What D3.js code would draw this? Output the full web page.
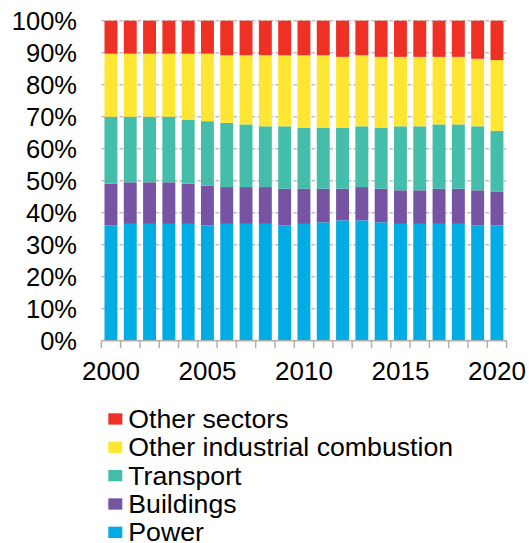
<!DOCTYPE html>
<html>
<head>
<meta charset="utf-8">
<script src="https://cdn.jsdelivr.net/npm/d3@7"></script>
<style>
  body { margin: 0; background: #fff; }
  svg text { font-family: "Liberation Sans", Arial, sans-serif; fill: #000; }
</style>
</head>
<body>
<svg id="chart" width="529" height="543"></svg>
<script>
var years = d3.range(2000, 2021);
var sectors = ["Power", "Buildings", "Transport", "Other industrial combustion", "Other sectors"];
var colors = ["#00ace4", "#7753a3", "#45bdab", "#ffe633", "#ee3124"];

// shares in % of total
var power     = [36.0,36.5,36.5,36.5,36.5,36.0,36.5,36.5,36.5,36.0,36.5,37.0,37.6,37.6,37.0,36.5,36.5,36.5,36.5,36.0,36.0];
var buildings = [13.1,13.0,13.0,13.0,12.6,12.5,11.5,11.5,11.5,11.5,11.0,10.5, 9.9,10.4,10.5,10.5,10.5,11.0,11.0,11.0,10.5];
var transport = [20.9,20.5,20.5,20.5,20.0,20.1,20.1,19.6,19.0,19.5,19.1,19.1,19.1,19.0,19.1,20.0,20.0,20.1,20.1,20.0,19.1];
var industry  = [19.7,19.7,19.7,19.7,20.6,21.1,21.1,21.6,22.2,22.2,22.6,22.6,22.1,22.2,22.1,21.7,21.7,21.1,21.1,21.1,22.1];
var other     = [10.3,10.3,10.3,10.3,10.3,10.3,10.8,10.8,10.8,10.8,10.8,10.8,11.3,10.8,11.3,11.3,11.3,11.3,11.3,11.9,12.3];

var yTicks = [0,10,20,30,40,50,60,70,80,90,100];
var xLabels = [2000, 2005, 2010, 2015, 2020];
var legendOrder = ["Other sectors", "Other industrial combustion", "Transport", "Buildings", "Power"];

var series = [power, buildings, transport, industry, other];
var rows = years.map(function(yr, i){
  var r = {year: yr};
  sectors.forEach(function(s, k){ r[s] = series[k][i]; });
  return r;
});

var svg = d3.select("#chart");
var x0 = 101.3, x1 = 506.6, yTop = 20.7, yBot = 340.7;

var x = d3.scaleBand().domain(years).range([x0, x1]).paddingInner(0.33).paddingOuter(0.165);
var y = d3.scaleLinear().domain([0, 100]).range([yBot, yTop]);
var color = d3.scaleOrdinal().domain(sectors).range(colors);

// gridlines
svg.append("g").selectAll("line").data(yTicks.slice(1)).enter().append("line")
  .attr("x1", x0).attr("x2", x1)
  .attr("y1", function(d){ return y(d); }).attr("y2", function(d){ return y(d); })
  .attr("stroke", "#c0c0c0").attr("stroke-width", 1.4).attr("stroke-dasharray", "4,2");

// stacked bars
var stacked = d3.stack().keys(sectors)(rows);
svg.append("g").selectAll("g").data(stacked).enter().append("g")
  .attr("fill", function(d){ return color(d.key); })
  .selectAll("rect").data(function(d){ return d; }).enter().append("rect")
    .attr("x", function(d){ return x(d.data.year); })
    .attr("width", x.bandwidth())
    .attr("y", function(d){ return y(d[1]); })
    .attr("height", function(d){ return y(d[0]) - y(d[1]); });

// x axis line and ticks at band edges
var step = x.step();
var ax = svg.append("g").attr("stroke", "#b0b0b0").attr("stroke-width", 1.5);
ax.append("line").attr("x1", x0).attr("x2", x1).attr("y1", yBot).attr("y2", yBot);
ax.selectAll("line.tk").data(d3.range(years.length + 1)).enter().append("line")
  .attr("class", "tk")
  .attr("x1", function(i){ return x0 + i * step; })
  .attr("x2", function(i){ return x0 + i * step; })
  .attr("y1", yBot).attr("y2", yBot + 7.5);

svg.append("g").selectAll("text").data(xLabels).enter().append("text")
  .attr("x", function(d){ return x(d) + x.bandwidth() / 2; })
  .attr("y", 380)
  .attr("text-anchor", "middle")
  .attr("font-size", 26)
  .text(function(d){ return d; });

// y labels
svg.append("g").selectAll("text").data(yTicks).enter().append("text")
  .attr("x", 77)
  .attr("y", function(d){ return y(d); })
  .attr("dy", "0.36em")
  .attr("text-anchor", "end")
  .attr("font-size", 25.5)
  .text(function(d){ return d + "%"; });

// legend
var lg = svg.append("g").selectAll("g").data(legendOrder).enter().append("g")
  .attr("transform", function(d, i){ return "translate(108.3," + (413.3 + i * 28.35) + ")"; });
lg.append("rect").attr("width", 14).attr("height", 11.3)
  .attr("fill", function(d){ return color(d); });
lg.append("text").attr("x", 20).attr("y", 14.5).attr("font-size", 26.7)
  .text(function(d){ return d; });
</script>
</body>
</html>
